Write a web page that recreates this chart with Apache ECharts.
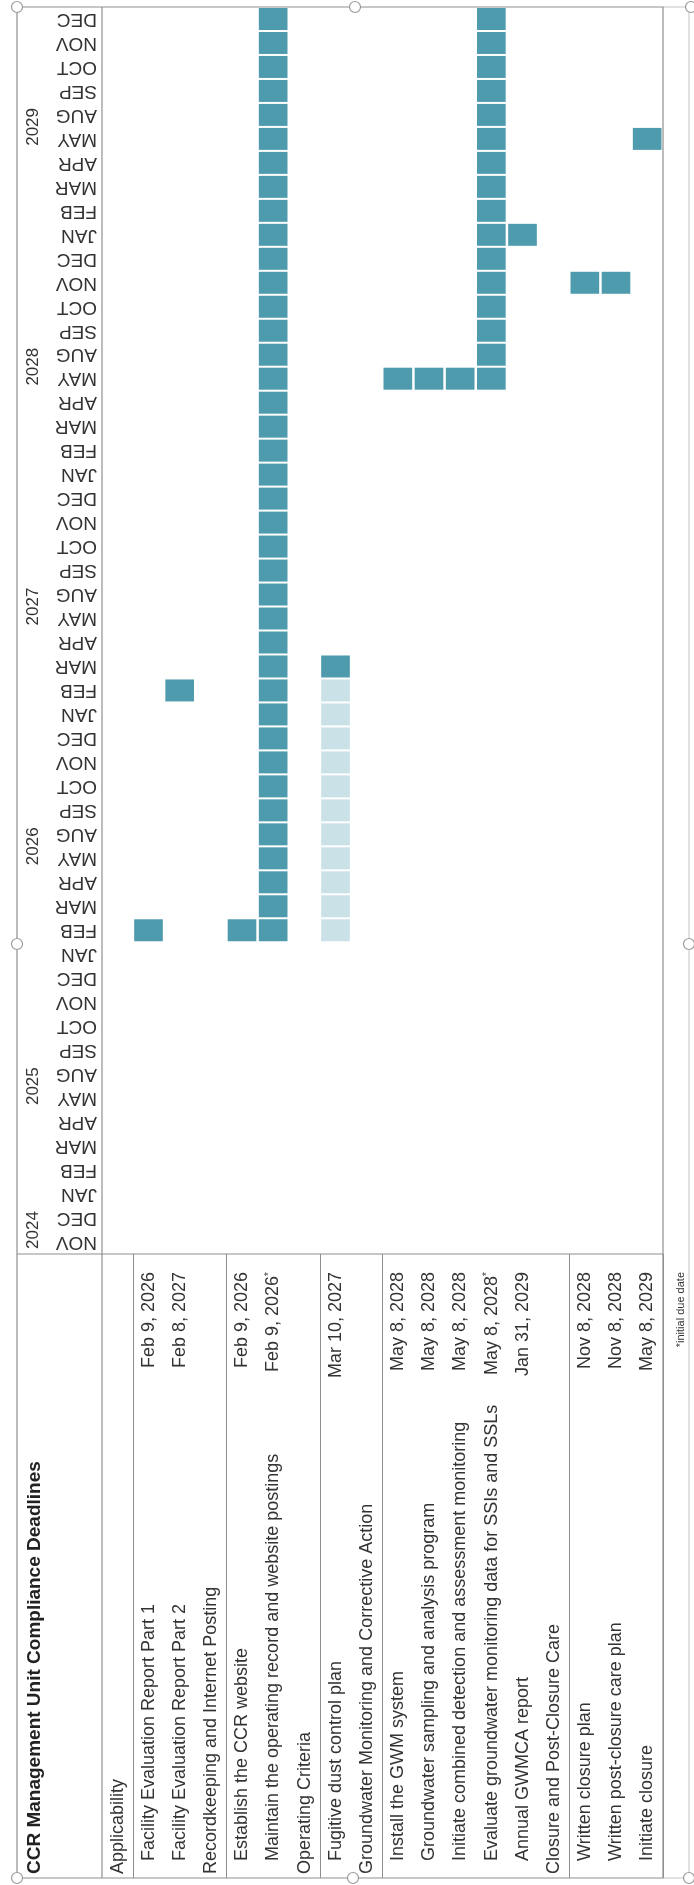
<!DOCTYPE html>
<html><head><meta charset="utf-8">
<script src="https://cdn.jsdelivr.net/npm/echarts@6/dist/echarts.min.js"></script>
<style>html,body{margin:0;padding:0;background:#fff}#c{width:694px;height:1885px}</style>
</head><body><div id="c"></div>
<script>
// ---- data ----
const monthCategories = [
  '2024-11','2024-12',
  '2025-01','2025-02','2025-03','2025-04','2025-05','2025-08','2025-09','2025-10','2025-11','2025-12',
  '2026-01','2026-02','2026-03','2026-04','2026-05','2026-08','2026-09','2026-10','2026-11','2026-12',
  '2027-01','2027-02','2027-03','2027-04','2027-05','2027-08','2027-09','2027-10','2027-11','2027-12',
  '2028-01','2028-02','2028-03','2028-04','2028-05','2028-08','2028-09','2028-10','2028-11','2028-12',
  '2029-01','2029-02','2029-03','2029-04','2029-05','2029-08','2029-09','2029-10','2029-11','2029-12'
];
const monthNames = {'01':'JAN','02':'FEB','03':'MAR','04':'APR','05':'MAY','06':'JUN','07':'JUL','08':'AUG','09':'SEP','10':'OCT','11':'NOV','12':'DEC'};
const years = ['2024','2025','2026','2027','2028','2029'];
const taskLabels = [
  'Applicability',
  'Facility Evaluation Report Part 1',
  'Facility Evaluation Report Part 2',
  'Recordkeeping and Internet Posting',
  'Establish the CCR website',
  'Maintain the operating record and website postings',
  'Operating Criteria',
  'Fugitive dust control plan',
  'Groundwater Monitoring and Corrective Action',
  'Install the GWM system',
  'Groundwater sampling and analysis program',
  'Initiate combined detection and assessment monitoring',
  'Evaluate groundwater monitoring data for SSIs and SSLs',
  'Annual GWMCA report',
  'Closure and Post-Closure Care',
  'Written closure plan',
  'Written post-closure care plan',
  'Initiate closure'
];
const sectionRows = ['Applicability','Recordkeeping and Internet Posting','Operating Criteria',
  'Groundwater Monitoring and Corrective Action','Closure and Post-Closure Care'];
const dueDates = ['', 'Feb 9, 2026', 'Feb 8, 2027', '', 'Feb 9, 2026', 'Feb 9, 2026*', '', 'Mar 10, 2027', '',
  'May 8, 2028', 'May 8, 2028', 'May 8, 2028', 'May 8, 2028*', 'Jan 31, 2029', '', 'Nov 8, 2028', 'Nov 8, 2028', 'May 8, 2029'];
const activeFrom = [null,'2026-02','2027-02',null,'2026-02','2026-02',null,'2027-03',null,
  '2028-05','2028-05','2028-05','2028-05','2029-01',null,'2028-11','2028-11','2029-05'];
const activeTo = [null,'2026-02','2027-02',null,'2026-02','2029-12',null,'2027-03',null,
  '2028-05','2028-05','2028-05','2029-12','2029-01',null,'2028-11','2028-11','2029-05'];
const leadFrom = [null,null,null,null,null,null,null,'2026-02',null,null,null,null,null,null,null,null,null,null];
const leadTo   = [null,null,null,null,null,null,null,'2027-02',null,null,null,null,null,null,null,null,null,null];

// ---- build cells ----
const cells = [];
taskLabels.forEach((t, r) => {
  if (leadFrom[r]) {
    const a = monthCategories.indexOf(leadFrom[r]), b = monthCategories.indexOf(leadTo[r]);
    for (let m = a; m <= b; m++) cells.push([r, m, 0]);
  }
  if (activeFrom[r]) {
    const a = monthCategories.indexOf(activeFrom[r]), b = monthCategories.indexOf(activeTo[r]);
    for (let m = a; m <= b; m++) cells.push([r, m, 1]);
  }
});
const yearCenters = years.map(y => {
  const idx = monthCategories.map((c, i) => c.startsWith(y) ? i : -1).filter(i => i >= 0);
  return (idx[0] + idx[idx.length - 1] + 1) / 2;
});

const FONT = "'Liberation Sans', Arial, sans-serif";
const TXT = '#333';
const LINE = '#8f8f8f';
const DARK = '#4e9bae';
const LIGHT = '#cbe1e8';

const L = 17, X1 = 102, R = 663, T = 7, H = 1254, B = 1878;
const DATE_END = 1272;

const chart = echarts.init(document.getElementById('c'), null, {renderer: 'canvas'});
const handles = [[17,7],[355,7],[691,7],[17,944],[689,944],[17,1878],[353,1878],[689,1878]];
chart.setOption({
  animation: false,
  backgroundColor: '#fff',
  textStyle: {fontFamily: FONT},
  grid: [
    {left: X1, top: T, width: R - X1, height: H - T, outerBoundsMode: 'none', containLabel: false},
    {left: X1, top: H, width: R - X1, height: B - H, outerBoundsMode: 'none', containLabel: false}
  ],
  xAxis: [
    {gridIndex: 0, type: 'category', data: taskLabels, show: false},
    {gridIndex: 1, type: 'category', data: taskLabels, position: 'bottom',
      axisLine: {show: false}, axisTick: {show: false},
      axisLabel: {inside: true, rotate: 90, align: 'left', verticalAlign: 'middle', margin: 4, interval: 0,
        fontSize: 18, color: TXT, fontFamily: FONT,
        formatter: v => sectionRows.includes(v) ? v : ''},
      splitLine: {show: true, interval: i => i > 0 && sectionRows.includes(taskLabels[i - 1]),
        lineStyle: {color: LINE, width: 1}}},
    {gridIndex: 1, type: 'category', data: taskLabels, position: 'bottom',
      axisLine: {show: false}, axisTick: {show: false}, splitLine: {show: false},
      axisLabel: {inside: true, rotate: 90, align: 'left', verticalAlign: 'middle', margin: 17, interval: 0,
        fontSize: 18, color: TXT, fontFamily: FONT,
        formatter: v => sectionRows.includes(v) ? '' : v}},
    {gridIndex: 1, type: 'category', data: taskLabels, position: 'bottom',
      axisLine: {show: false}, axisTick: {show: false}, splitLine: {show: false},
      axisLabel: {inside: true, rotate: 90, align: 'right', verticalAlign: 'middle', margin: B - DATE_END, interval: 0,
        fontSize: 18, color: TXT, fontFamily: FONT,
        formatter: (v, i) => {
          const d = dueDates[i] || '';
          if (!d) return '';
          return d.endsWith('*') ? '{d|' + d.slice(0, -1) + '}{s|*}' : '{d|' + d + '}';
        },
        rich: {
          d: {fontSize: 18, color: TXT, fontFamily: FONT},
          s: {fontSize: 10, color: TXT, fontFamily: FONT, verticalAlign: 'top'}
        }}}
  ],
  yAxis: [
    {gridIndex: 0, type: 'category', data: monthCategories,
      axisLine: {show: false}, axisTick: {show: false}, splitLine: {show: false},
      axisLabel: {rotate: 180, align: 'left', verticalAlign: 'middle', margin: 5, interval: 0,
        fontSize: 19, color: TXT, fontFamily: FONT,
        formatter: v => monthNames[v.slice(5)]}},
    {gridIndex: 0, type: 'value', min: 0, max: monthCategories.length, position: 'left', offset: X1 - 33,
      axisLine: {show: false}, axisTick: {show: false}, splitLine: {show: false},
      axisLabel: {rotate: 90, align: 'center', verticalAlign: 'middle', margin: 0,
        customValues: yearCenters, fontSize: 17, color: TXT, fontFamily: FONT,
        formatter: v => { const k = yearCenters.indexOf(v); return k >= 0 ? years[k] : ''; }}},
    {gridIndex: 1, type: 'value', show: false}
  ],
  series: [{
    type: 'custom', xAxisIndex: 0, yAxisIndex: 0, data: cells, encode: {x: 0, y: 1},
    renderItem(params, api) {
      const c = api.coord([api.value(0), api.value(1)]);
      const s = api.size([1, 1]);
      return {type: 'rect',
        shape: {x: c[0] - s[0] / 2 + 1, y: c[1] - s[1] / 2 + 1, width: s[0] - 2.5, height: s[1] - 2},
        style: {fill: api.value(2) ? DARK : LIGHT}};
    }
  }],
  graphic: [
    {type: 'polyline', shape: {points: [[R, T], [689, T], [689, B], [R, B]]}, style: {stroke: '#c4c4c4', fill: null, lineWidth: 1}, z: 1},
    {type: 'rect', shape: {x: L, y: T, width: R - L, height: B - T}, style: {stroke: LINE, fill: null, lineWidth: 1.2}, z: 5},
    {type: 'line', shape: {x1: X1, y1: T, x2: X1, y2: B}, style: {stroke: LINE, lineWidth: 1.2}, z: 5},
    {type: 'line', shape: {x1: L, y1: H, x2: R, y2: H}, style: {stroke: LINE, lineWidth: 1.2}, z: 5},
    {type: 'text', x: 35, y: 1874, rotation: Math.PI / 2, z: 6,
      style: {text: 'CCR Management Unit Compliance Deadlines', fontFamily: FONT, fontWeight: 'bold', fontSize: 19,
        fill: '#222', textAlign: 'left', textVerticalAlign: 'middle'}},
    {type: 'text', x: 681, y: 1272, rotation: Math.PI / 2, z: 6,
      style: {text: '*initial due date', fontFamily: FONT, fontSize: 11, fill: TXT, textAlign: 'right', textVerticalAlign: 'middle'}},
    ...handles.map(p => ({type: 'circle', shape: {cx: p[0], cy: p[1], r: 5.5}, style: {fill: '#fff', stroke: '#9a9a9a', lineWidth: 1.2}, z: 10}))
  ]
});
</script>
</body></html>
